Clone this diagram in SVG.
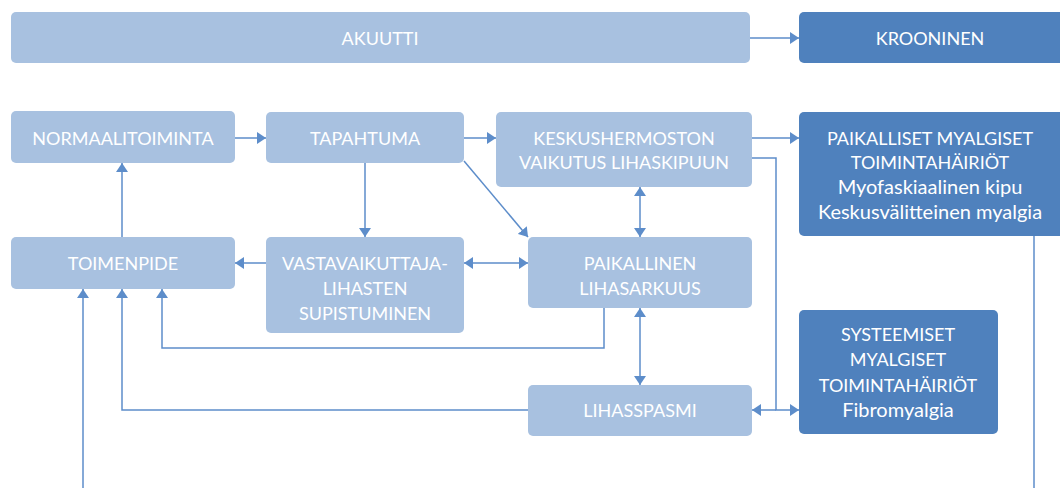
<svg xmlns="http://www.w3.org/2000/svg" width="1060" height="488" viewBox="0 0 1060 488">
<style>
.lb{fill:#A8C1E0}
.db{fill:#4F81BD}
.t{fill:#FFFFFF;font-family:Lato,"Open Sans",sans-serif;font-size:18px;text-anchor:middle}
.m{font-size:20px}
.c{fill:none;stroke:#5D8DCA;stroke-width:1.5}
.e{marker-end:url(#arr)}
.b{marker-start:url(#arr);marker-end:url(#arr)}
</style>
<defs>
<marker id="arr" markerUnits="userSpaceOnUse" markerWidth="10" markerHeight="12" refX="9" refY="6" orient="auto-start-reverse" viewBox="0 0 10 12">
<path d="M0,0 L9,6 L0,12 z" fill="#5D8DCA"/>
</marker>
</defs>
<g id="connectors">
<path class="c e" d="M750,38 H799"/>
<path class="c e" d="M235,138 H266"/>
<path class="c e" d="M464,138 H496"/>
<path class="c e" d="M752,138 H799"/>
<path class="c e" d="M365,163 V237"/>
<path class="c e" d="M464,161 L528,237"/>
<path class="c b" d="M640,187 V237"/>
<path class="c b" d="M464,263 H528"/>
<path class="c e" d="M266,263 H235"/>
<path class="c e" d="M122,237 V163"/>
<path class="c e" d="M604,308 V348 H162 V289"/>
<path class="c e" d="M528,410 H122 V289"/>
<path class="c b" d="M640,308 V385"/>
<path class="c e" d="M752,158 H776 V410 H799"/>
<path class="c e" d="M776,410 H752"/>
<path class="c" d="M1034,236 V488"/>
<path class="c e" d="M83,488 V289"/>
</g>
<g id="akuutti"><rect class="lb" x="11" y="12" width="739" height="51" rx="5"/><text class="t" x="380" y="44.5">AKUUTTI</text></g>
<g id="krooninen"><rect class="db" x="799" y="12" width="266" height="51" rx="5"/><text class="t" x="930" y="44.5">KROONINEN</text></g>
<g id="normaalitoiminta"><rect class="lb" x="11" y="111" width="224" height="52" rx="5"/><text class="t" x="123" y="144.5">NORMAALITOIMINTA</text></g>
<g id="tapahtuma"><rect class="lb" x="266" y="112" width="198" height="51" rx="5"/><text class="t" x="365" y="144.5">TAPAHTUMA</text></g>
<g id="keskushermoston"><rect class="lb" x="496" y="112" width="256" height="75" rx="5"/><text class="t" x="624" y="144.5">KESKUSHERMOSTON</text><text class="t" x="624" y="168.5">VAIKUTUS LIHASKIPUUN</text></g>
<g id="paikalliset"><rect class="db" x="799" y="112" width="266" height="124" rx="5"/><text class="t" x="930" y="144.5">PAIKALLISET MYALGISET</text><text class="t" x="930" y="168.5">TOIMINTAHÄIRIÖT</text><text class="t m" x="930" y="194">Myofaskiaalinen kipu</text><text class="t m" x="930" y="219">Keskusvälitteinen myalgia</text></g>
<g id="toimenpide"><rect class="lb" x="11" y="237" width="224" height="52" rx="5"/><text class="t" x="123" y="269.5">TOIMENPIDE</text></g>
<g id="vastavaikuttaja"><rect class="lb" x="266" y="237" width="198" height="96" rx="5"/><text class="t" x="365" y="269.5">VASTAVAIKUTTAJA-</text><text class="t" x="365" y="295">LIHASTEN</text><text class="t" x="365" y="320">SUPISTUMINEN</text></g>
<g id="paikallinen"><rect class="lb" x="528" y="237" width="224" height="71" rx="5"/><text class="t" x="640" y="269.5">PAIKALLINEN</text><text class="t" x="640" y="294.5">LIHASARKUUS</text></g>
<g id="systeemiset"><rect class="db" x="799" y="310" width="199" height="124" rx="5"/><text class="t" x="898" y="340.5">SYSTEEMISET</text><text class="t" x="898" y="366">MYALGISET</text><text class="t" x="898" y="391.5">TOIMINTAHÄIRIÖT</text><text class="t m" x="898" y="416.5">Fibromyalgia</text></g>
<g id="lihasspasmi"><rect class="lb" x="528" y="385" width="224" height="51" rx="5"/><text class="t" x="640" y="416.5">LIHASSPASMI</text></g>
</svg>
